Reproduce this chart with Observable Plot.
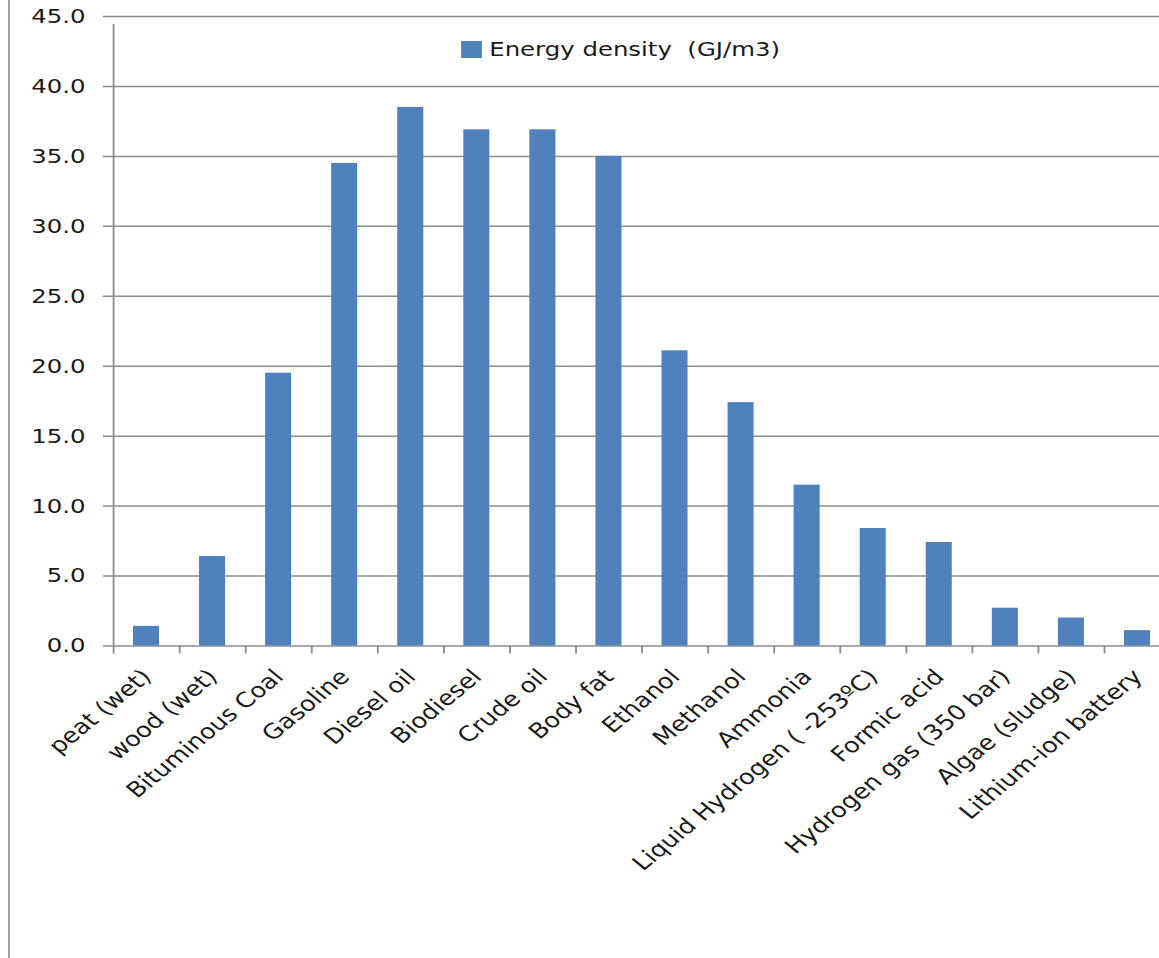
<!DOCTYPE html>
<html><head><meta charset="utf-8">
<script src="https://cdn.jsdelivr.net/npm/d3@7"></script>
<script src="https://cdn.jsdelivr.net/npm/@observablehq/plot@0.6"></script>
<style>
html,body{margin:0;padding:0;background:#fff;overflow:hidden;width:1159px;height:958px;}
#frame{position:absolute;left:8px;top:0;width:2px;height:958px;background:#a0a0a0;}
#chart{position:absolute;left:0;top:0;width:959px;height:958px;transform:scaleX(1.22);transform-origin:0 0;}
#legend{position:absolute;left:378px;top:37px;font:20px "DejaVu Sans";color:#1a1a1a;display:flex;align-items:center;white-space:pre;}
#legend .sw{display:inline-block;width:17px;height:17px;background:#4F81BD;margin-right:6px;}
</style></head><body>
<div id="frame"></div>
<div id="chart"><div id="legend"><span class="sw"></span><span id="legtext"></span></div></div>
<script>
const categories = ["peat (wet)", "wood (wet)", "Bituminous Coal", "Gasoline", "Diesel oil", "Biodiesel", "Crude oil", "Body fat", "Ethanol", "Methanol", "Ammonia", "Liquid Hydrogen ( -253ºC)", "Formic acid", "Hydrogen gas (350 bar)", "Algae (sludge)", "Lithium-ion battery"];
const values = [1.4, 6.4, 19.5, 34.5, 38.5, 36.9, 36.9, 35.0, 21.1, 17.4, 11.5, 8.4, 7.4, 2.7, 2.0, 1.1];
const yTicks = [0, 5, 10, 15, 20, 25, 30, 35, 40, 45];
const seriesName = "Energy density  (GJ/m3)";

const barColor = "#4F81BD";
const gridColor = "#8c8c8c";
document.getElementById("legtext").textContent = seriesName;

const data = categories.map((c, i) => ({c, i, v: values[i]}));
const plot = Plot.plot({
  width: 959, height: 958,
  marginLeft: 92.6, marginRight: 0, marginTop: 16, marginBottom: 312.5,
  style: {fontFamily: "DejaVu Sans", fontSize: "20px", color: "#1a1a1a", background: "transparent"},
  x: {type: "linear", domain: [0, categories.length], axis: null},
  y: {domain: [0, 45], axis: null},
  marks: [
    Plot.ruleY(yTicks, {stroke: gridColor, strokeWidth: 1.5, insetLeft: -8.2}),
    Plot.rectY(data, {x1: "i", x2: d => d.i + 1, y: "v", insetLeft: 16.4, insetRight: 16.4, fill: barColor}),
    Plot.ruleX([0], {y1: 0, y2: 45, insetBottom: -8, stroke: gridColor, strokeWidth: 1.5}),
    Plot.ruleX(d3.range(categories.length + 1), {y1: 0, y2: 0, insetBottom: -8, stroke: gridColor, strokeWidth: 1.5}),
    Plot.axisY({ticks: yTicks, tickFormat: d3.format(".1f"), tickSize: 0, tickPadding: 23, fontSize: 20, fill: "#1a1a1a", label: null}),
    Plot.text(data, {x: d => d.i + 0.5, frameAnchor: "bottom", text: "c", rotate: -45, textAnchor: "end", lineAnchor: "bottom", dx: 5, dy: 32, fontSize: 21, fill: "#1a1a1a"})
  ]
});
document.getElementById("chart").appendChild(plot);
</script>
</body></html>
